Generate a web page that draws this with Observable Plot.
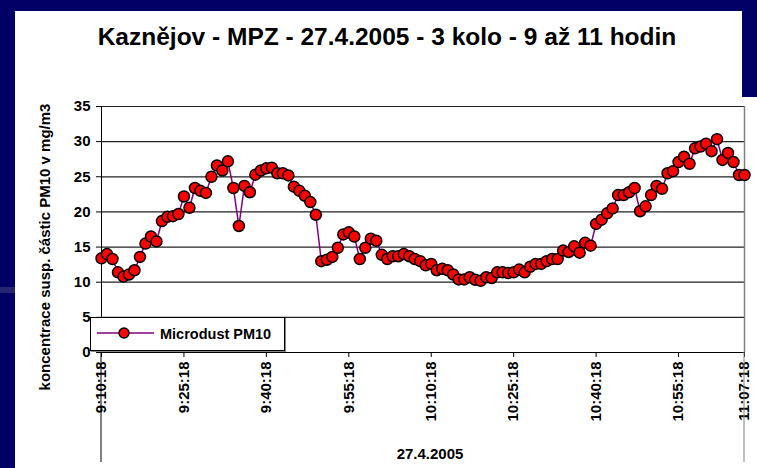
<!DOCTYPE html>
<html><head><meta charset="utf-8">
<script src="https://cdn.jsdelivr.net/npm/d3@7"></script>
<script src="https://cdn.jsdelivr.net/npm/@observablehq/plot@0.6"></script>
<style>
html,body{margin:0;padding:0;}
body{width:757px;height:468px;position:relative;overflow:hidden;background:#000066;font-family:"Liberation Sans",Arial,sans-serif;color:#000;}
#panel{position:absolute;left:15px;top:11px;width:727px;height:457px;background:#fff;}
#stripe{position:absolute;left:0;top:287px;width:15px;height:6px;background:#262673;}
#title{position:absolute;left:15px;top:23px;width:744px;text-align:center;font-weight:bold;font-size:24.5px;line-height:28px;white-space:nowrap;}
#chart{position:absolute;left:15px;top:97px;}
#ylabel{position:absolute;left:-155px;top:238px;width:400px;text-align:center;font-weight:bold;font-size:15px;line-height:18px;transform:rotate(-90deg);white-space:nowrap;}
#xlabel{position:absolute;left:370px;top:445px;width:120px;text-align:center;font-weight:bold;font-size:15px;line-height:18px;}
#legend{position:absolute;left:90px;top:317px;width:193px;height:32px;background:#fff;border:1px solid #000;box-shadow:1px 1px 0 #888;}
#legend svg{position:absolute;left:0;top:0;}
#legend span{position:absolute;left:69px;top:7px;font-weight:bold;font-size:14.5px;line-height:18px;white-space:nowrap;}
</style></head><body>
<div id="panel"></div>
<div id="stripe"></div>
<div id="title"></div>
<div id="chart"></div>
<div id="ylabel"></div>
<div id="xlabel"></div>
<div id="legend"><svg width="70" height="32"></svg><span></span></div>
<script>
const title = "Kaznějov - MPZ - 27.4.2005 - 3 kolo - 9 až 11 hodin";
const yLabel = "koncentrace susp. částic PM10 v mg/m3";
const dateLabel = "27.4.2005";
const seriesName = "Microdust PM10";
// one reading per minute starting 9:10:18
const startTime = "9:10:18";
const values = [
 13.4,14.0,13.3,11.4,10.8,11.1,11.7,13.6,15.5,16.5,
 15.8,18.7,19.3,19.4,19.7,22.2,20.6,23.4,23.0,22.7,
 25.0,26.6,25.9,27.2,23.4,18.0,23.7,22.8,25.3,25.9,
 26.2,26.3,25.5,25.5,25.2,23.6,23.0,22.3,21.4,19.6,
 13.0,13.2,13.6,14.9,16.8,17.1,16.5,13.3,14.9,16.2,
 15.9,13.9,13.3,13.7,13.7,14.0,13.7,13.3,13.0,12.4,
 12.6,11.7,11.9,11.7,11.1,10.4,10.4,10.7,10.35,10.2,
 10.7,10.6,11.4,11.4,11.3,11.4,11.8,11.4,12.2,12.6,
 12.6,13.0,13.3,13.3,14.5,14.3,15.1,14.2,15.6,15.2,
 18.3,18.9,19.8,20.5,22.4,22.4,22.8,23.4,20.1,20.8,
 22.4,23.7,23.3,25.5,25.8,27.1,27.85,26.85,29.05,29.3,
 29.7,28.65,30.35,27.4,28.4,27.1,25.25,25.25
];
const tickLabels = ["9:10:18","9:25:18","9:40:18","9:55:18","10:10:18","10:25:18","10:40:18","10:55:18","11:07:18"];
const yTicks = [0,5,10,15,20,25,30,35];

const parseT = s => { const [h,m,sec] = s.split(":").map(Number); return new Date(2005,3,27,h,m,sec); };
const t0 = parseT(startTime);
const data = values.map((v,i) => ({t: new Date(t0.getTime() + i*60000), v}));
const xTicks = tickLabels.map(parseT);
const fmt = d => tickLabels[xTicks.findIndex(x => +x === +d)];
const tFirst = data[0].t, tLast = data[data.length-1].t;

document.getElementById("title").textContent = title;
document.getElementById("ylabel").textContent = yLabel;
document.getElementById("xlabel").textContent = dateLabel;
document.querySelector("#legend span").textContent = seriesName;

const plot = Plot.plot({
  width: 742, height: 371,
  marginLeft: 86, marginRight: 13, marginTop: 9, marginBottom: 116,
  style: {background: "white", fontFamily: "'Liberation Sans', Arial, sans-serif", color: "#000", overflow: "visible"},
  x: {type: "time", domain: [tFirst, tLast]},
  y: {domain: [0, 35]},
  marks: [
    Plot.ruleY(yTicks.filter(d => d > 0), {stroke: "#222", strokeWidth: 1.2}),
    Plot.ruleX([tLast], {stroke: "#808080", strokeWidth: 1.5}),
    Plot.axisY({ticks: yTicks, tickSize: 5, tickPadding: 6, fontSize: 15, fontWeight: "bold", label: null}),
    Plot.axisX({ticks: xTicks, tickFormat: fmt, tickRotate: -90, tickSize: 5, tickPadding: 4, fontSize: 15, fontWeight: "bold", label: null}),
    Plot.ruleX([tFirst], {stroke: "#000"}),
    Plot.ruleY([0], {stroke: "#000"}),
    Plot.line(data, {x: "t", y: "v", stroke: "#800080", strokeWidth: 1.5}),
    Plot.dot(data, {x: "t", y: "v", r: 5.5, fill: "#ff0000", stroke: "#000", strokeWidth: 1.5})
  ]
});
document.getElementById("chart").appendChild(plot);

// category group dividers extending below the axis
const sx = plot.scale("x"), sy = plot.scale("y");
const svg = d3.select(plot);
[[tFirst, "#000"], [tLast, "#808080"]].forEach(([t, c]) => {
  svg.append("line").attr("x1", sx.apply(t)).attr("x2", sx.apply(t))
    .attr("y1", sy.apply(0)).attr("y2", 365).attr("stroke", c).attr("stroke-width", 1);
});

// legend sample
const lg = d3.select("#legend svg");
lg.append("line").attr("x1", 6).attr("x2", 63).attr("y1", 15).attr("y2", 15).attr("stroke", "#800080").attr("stroke-width", 1.5);
lg.append("circle").attr("cx", 33).attr("cy", 15).attr("r", 5).attr("fill", "#ff0000").attr("stroke", "#000").attr("stroke-width", 1.5);
</script>
</body></html>
